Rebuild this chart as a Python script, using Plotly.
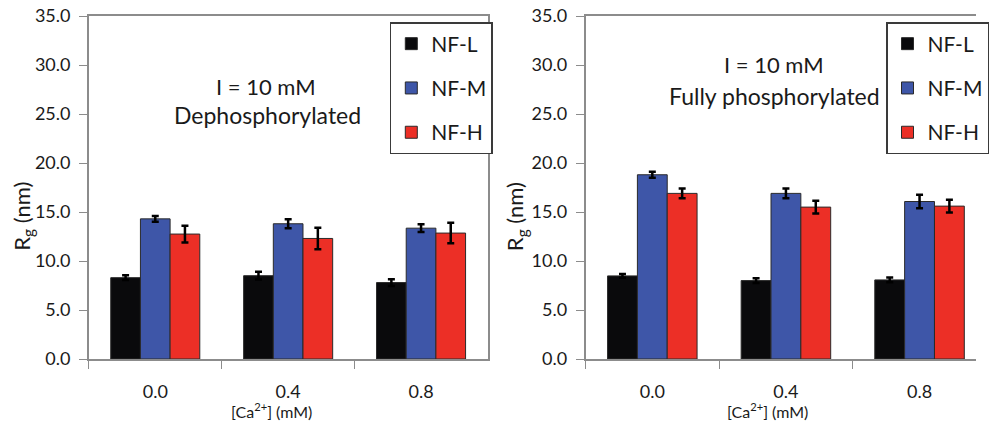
import plotly.graph_objects as go

# [Ca2+] concentrations (mM) on the category axis
calcium = ["0.0", "0.4", "0.8"]
series_names = ["NF-L", "NF-M", "NF-H"]
series_colors = ["#0a0a0c", "#3e56a8", "#ec2f26"]

# Radius of gyration (nm), dephosphorylated, I = 10 mM
dephos_rg = {
    "NF-L": [8.3, 8.5, 7.8],
    "NF-M": [14.3, 13.8, 13.35],
    "NF-H": [12.75, 12.3, 12.85],
}
dephos_err = {
    "NF-L": [0.25, 0.4, 0.35],
    "NF-M": [0.3, 0.45, 0.4],
    "NF-H": [0.85, 1.1, 1.05],
}

# Radius of gyration (nm), fully phosphorylated, I = 10 mM
phos_rg = {
    "NF-L": [8.48, 8.0, 8.07],
    "NF-M": [18.8, 16.9, 16.07],
    "NF-H": [16.9, 15.5, 15.6],
}
phos_err = {
    "NF-L": [0.2, 0.25, 0.25],
    "NF-M": [0.3, 0.5, 0.7],
    "NF-H": [0.5, 0.65, 0.65],
}

W, H = 989, 427
FONT = "Lato, 'Open Sans', sans-serif"
TEXT = "#1a1a1a"
AXIS = "#8c8c8c"


def px(x):
    return x / W


def py(y):
    return 1 - y / H


fig = go.Figure()

panels = [
    ("x", "y", "legend", dephos_rg, dephos_err),
    ("x2", "y2", "legend2", phos_rg, phos_err),
]
for xa, ya, leg, vals, errs in panels:
    for name, color in zip(series_names, series_colors):
        fig.add_trace(go.Bar(
            x=calcium, y=vals[name], name=name,
            xaxis=xa, yaxis=ya, legend=leg, legendgroup=name + xa,
            marker=dict(color=color, line=dict(color="#2a2a2a", width=1)),
            error_y=dict(type="data", array=errs[name], visible=True,
                         color="#000000", thickness=2.5, width=3.5),
        ))

y_dom = [py(359), py(16)]
yaxis_common = dict(
    range=[0, 35], dtick=5, tickformat=".1f", showgrid=False, zeroline=False,
    showline=True, linecolor=AXIS, linewidth=1.5,
    ticks="outside", ticklen=8, tickcolor=AXIS, tickwidth=1.2,
    ticklabelstandoff=5,
    tickfont=dict(family=FONT, size=18, color=TEXT),
    domain=y_dom, automargin=False,
)
xaxis_common = dict(
    showgrid=False, zeroline=False, showline=True, linecolor=AXIS, linewidth=1.5,
    ticks="outside", tickson="boundaries", ticklen=8, tickcolor=AXIS, tickwidth=1.2,
    ticklabelstandoff=16,
    tickfont=dict(family=FONT, size=18, color=TEXT),
    automargin=False, type="category",
)

# right panel runs past the page edge
right_w = 989 - 593.3
unit = 135.4
legend_style = dict(
    xanchor="left", yanchor="top",
    bordercolor="#3a3a3a", borderwidth=1.5, bgcolor="white",
    font=dict(family=FONT, size=21, color=TEXT),
    traceorder="grouped", tracegroupgap=14, itemwidth=30,
)
fig.update_layout(
    width=W, height=H,
    margin=dict(l=0, r=0, t=0, b=0),
    paper_bgcolor="white", plot_bgcolor="white",
    barmode="group", bargap=0.33, bargroupgap=0.0,
    showlegend=True,
    xaxis=dict(**xaxis_common, domain=[px(90), px(494)], range=[-0.5, 2.5],
               mirror=True, anchor="y"),
    yaxis=dict(**yaxis_common, mirror=True, anchor="x"),
    xaxis2=dict(**xaxis_common, domain=[px(593.3), 1.0],
                range=[-0.5, -0.5 + right_w / unit], mirror=True, anchor="y2"),
    yaxis2=dict(**yaxis_common, mirror=False, anchor="x2"),
    legend=dict(x=px(395), y=py(22), **legend_style),
    legend2=dict(x=px(898), y=py(22), **legend_style),
)

annotations = [
    (270, 86, "I = 10 mM", 22, 0),
    (271, 115, "Dephosphorylated", 23, 0),
    (784, 65, "I = 10 mM", 22, 0),
    (785, 96, "Fully phosphorylated", 23, 0),
    (275, 410, "[Ca<sup>2+</sup>] (mM)", 16, 0),
    (778, 410, "[Ca<sup>2+</sup>] (mM)", 16, 0),
    (23, 216, "R<sub>g</sub> (nm)", 22, -90),
    (523, 217, "R<sub>g</sub> (nm)", 22, -90),
]
for x, y, text, size, angle in annotations:
    fig.add_annotation(
        x=px(x), y=py(y), xref="paper", yref="paper", text=text,
        showarrow=False, xanchor="center", yanchor="middle", textangle=angle,
        font=dict(family=FONT, size=size, color=TEXT),
    )

fig.write_html("out.html")
